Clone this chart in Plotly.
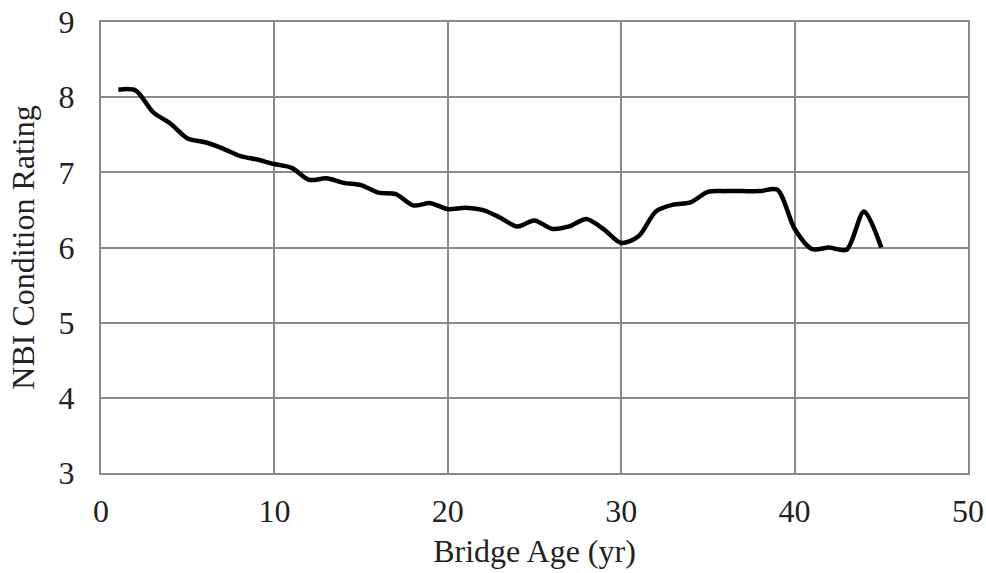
import plotly.graph_objects as go

age = list(range(1, 46))
rating = [8.10, 8.09, 7.80, 7.65, 7.45, 7.40, 7.32, 7.22, 7.17, 7.11,
          7.06, 6.90, 6.92, 6.86, 6.83, 6.73, 6.71, 6.56, 6.59, 6.51,
          6.53, 6.50, 6.40, 6.28, 6.36, 6.25, 6.28, 6.38, 6.24, 6.06,
          6.15, 6.48, 6.57, 6.60, 6.74, 6.75, 6.75, 6.75, 6.77, 6.25,
          5.98, 6.00, 5.97, 6.48, 6.00]

x_ticks = [0, 10, 20, 30, 40, 50]
y_ticks = [3, 4, 5, 6, 7, 8, 9]

fig = go.Figure()
fig.add_trace(go.Scatter(x=age, y=rating, mode="lines",
                         line=dict(color="black", width=4.5, shape="spline", smoothing=0.8),
                         showlegend=False, hoverinfo="skip"))

font = dict(family="Liberation Serif", size=32, color="#222")
grid = "#8a8a8a"
fig.update_layout(
    width=986, height=573,
    margin=dict(l=101, r=18, t=22, b=100, autoexpand=False),
    paper_bgcolor="white", plot_bgcolor="white",
    font=font,
    xaxis=dict(range=[0, 50], tickvals=x_ticks, showgrid=True, gridcolor=grid, gridwidth=2,
               showline=True, linecolor=grid, linewidth=2, mirror=True, zeroline=False,
               ticks="", ticklabelstandoff=9, automargin=False, tickfont=font,
               ticklabeloverflow="allow",
               title=dict(text="Bridge Age (yr)", standoff=11, font=font)),
    yaxis=dict(range=[3, 9], tickvals=y_ticks, showgrid=True, gridcolor=grid, gridwidth=2,
               showline=True, linecolor=grid, linewidth=2, mirror=True, zeroline=False,
               ticks="", ticklabelstandoff=18, automargin=False, tickfont=font,
               ticklabeloverflow="allow",
               title=dict(text="NBI Condition Rating", standoff=14, font=font)),
)
fig.write_html("out.html", config={"displayModeBar": False, "staticPlot": True},
               post_script="document.body.style.margin='0';document.body.style.overflow='hidden';")
